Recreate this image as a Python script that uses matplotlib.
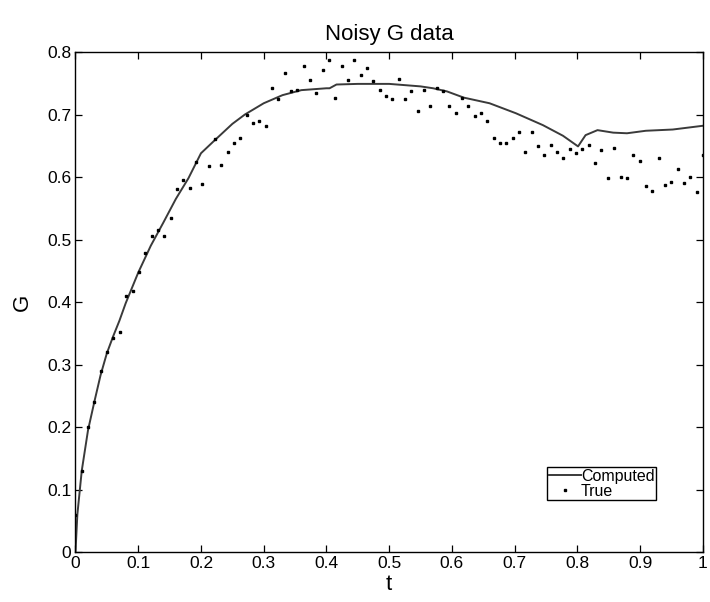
import numpy as np
import matplotlib
matplotlib.use("Agg")
import matplotlib.pyplot as plt

plt.rcParams['font.family'] = ['Liberation Sans', 'DejaVu Sans']

# noisy samples, 100 evenly spaced points on [0, 1]
t_true = np.linspace(0, 1, 100)
g_true = [
    0.06, 0.13, 0.20, 0.24, 0.29, 0.32, 0.343, 0.352, 0.41, 0.418,
    0.448, 0.478, 0.506, 0.515, 0.506, 0.535, 0.581, 0.596, 0.582, 0.624,
    0.589, 0.618, 0.661, 0.62, 0.64, 0.654, 0.662, 0.70, 0.687, 0.689,
    0.682, 0.743, 0.725, 0.767, 0.738, 0.739, 0.778, 0.755, 0.735, 0.772,
    0.787, 0.726, 0.778, 0.755, 0.787, 0.763, 0.775, 0.753, 0.74, 0.729,
    0.725, 0.757, 0.725, 0.738, 0.706, 0.74, 0.713, 0.742, 0.738, 0.713,
    0.702, 0.726, 0.714, 0.697, 0.703, 0.689, 0.662, 0.655, 0.655, 0.663,
    0.672, 0.64, 0.672, 0.65, 0.635, 0.652, 0.64, 0.63, 0.645, 0.638,
    0.645, 0.652, 0.623, 0.644, 0.598, 0.647, 0.60, 0.598, 0.635, 0.625,
    0.586, 0.578, 0.63, 0.588, 0.592, 0.613, 0.591, 0.60, 0.576, 0.635,
]

t_comp = [0, 0.003, 0.01, 0.02, 0.03, 0.04, 0.05, 0.06, 0.07, 0.08,
          0.10, 0.12, 0.14, 0.16, 0.18, 0.195, 0.20, 0.22, 0.25, 0.27,
          0.30, 0.33, 0.36, 0.40, 0.405, 0.416, 0.45, 0.50, 0.55, 0.57,
          0.592, 0.619, 0.66, 0.702, 0.745, 0.777, 0.801, 0.813, 0.832, 0.857,
          0.879, 0.909, 0.952, 1.0]
g_comp = [0, 0.06, 0.13, 0.195, 0.24, 0.283, 0.318, 0.345, 0.37, 0.398,
          0.447, 0.49, 0.527, 0.565, 0.598, 0.628, 0.638, 0.657, 0.685, 0.70,
          0.718, 0.731, 0.739, 0.742, 0.742, 0.748, 0.749, 0.749, 0.745, 0.742,
          0.737, 0.727, 0.718, 0.702, 0.683, 0.666, 0.649, 0.667, 0.675, 0.671,
          0.670, 0.674, 0.676, 0.682]

x_ticks = [0, 0.1, 0.2, 0.3, 0.4, 0.5, 0.6, 0.7, 0.8, 0.9, 1]
x_labels = ['0', '0.1', '0.2', '0.3', '0.4', '0.5', '0.6', '0.7', '0.8', '0.9', '1']
y_ticks = [0, 0.1, 0.2, 0.3, 0.4, 0.5, 0.6, 0.7, 0.8]
y_labels = ['0', '0.1', '0.2', '0.3', '0.4', '0.5', '0.6', '0.7', '0.8']

fig = plt.figure(figsize=(7.1, 6.02), dpi=100)
ax = fig.add_axes([0.1063, 0.083, 0.8837, 0.8306])

ax.plot(t_comp, g_comp, color='#3a3a3a', linewidth=1.4, label='Computed')
ax.plot(t_true, g_true, linestyle='none', marker='s', markersize=1.9,
        color='black', label='True')

ax.set_xlim(0, 1)
ax.set_ylim(0, 0.8)
ax.set_xticks(x_ticks)
ax.set_xticklabels(x_labels)
ax.set_yticks(y_ticks)
ax.set_yticklabels(y_labels)
ax.tick_params(direction='in', length=5, width=0.9, top=True, right=True,
               labelsize=12.5, pad=3)
for s in ax.spines.values():
    s.set_linewidth(1.0)

ax.set_title("Noisy G data", fontsize=16, pad=9)
ax.set_xlabel("t", fontsize=16, labelpad=2)
ax.set_ylabel("G", fontsize=16, labelpad=10)

leg = ax.legend(loc='upper left', bbox_to_anchor=(0.752, 0.17), borderaxespad=0,
                fontsize=11.5, handlelength=2.0, handletextpad=0.0,
                borderpad=0.1, labelspacing=0.0, fancybox=False,
                edgecolor='black', framealpha=1, markerscale=1.0)
leg.get_frame().set_linewidth(1.0)

plt.savefig("out.png", dpi=100)
